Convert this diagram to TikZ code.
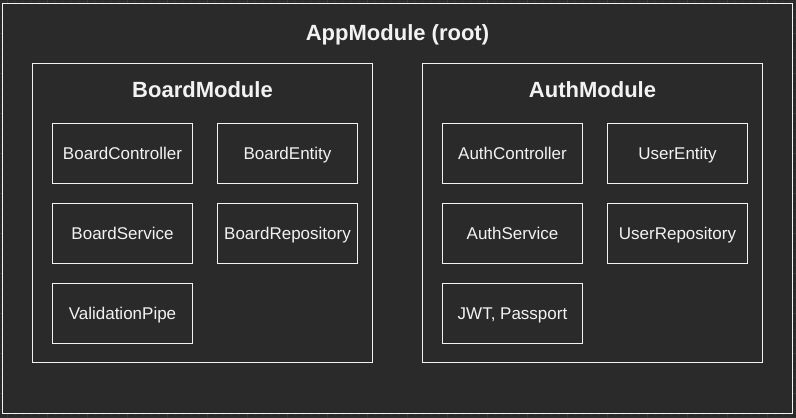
\documentclass[tikz,border=0pt]{standalone}
\usepackage{fontspec}
\setmainfont{Liberation Sans}
\definecolor{bg}{HTML}{2A2A2A}
\definecolor{gridminor}{HTML}{313131}
\definecolor{gridmajor}{HTML}{3C3C3C}
\definecolor{fg}{HTML}{F2F2F2}
\begin{document}
\begin{tikzpicture}[x=1pt,y=-1pt,
  frame/.style={draw=fg,line width=1.2pt},
  comp/.style={draw=fg,line width=1pt,minimum width=140pt,minimum height=60pt,anchor=north west,inner sep=0pt,outer sep=0pt,text=fg,font=\fontsize{17}{19}\selectfont,text height=12.2pt,text depth=0pt},
  ttl/.style={text=fg,font=\fontsize{22}{24}\selectfont\bfseries,inner sep=0pt,text height=15.8pt,text depth=0pt}]
\useasboundingbox (0,0) rectangle (796,418);
\fill[bg] (0,0) rectangle (796,418);
\foreach \i in {0,...,100} {\draw[gridminor,line width=0.6pt] ({-1+8*\i},0) -- ({-1+8*\i},418);}
\foreach \i in {0,...,53} {\draw[gridminor,line width=0.6pt] (0,{1+8*\i}) -- (796,{1+8*\i});}
\foreach \i in {0,...,20} {\draw[gridmajor,line width=0.8pt] ({7+40*\i},0) -- ({7+40*\i},418);}
\foreach \i in {-1,...,10} {\draw[gridmajor,line width=0.8pt] (0,{33+40*\i}) -- (796,{33+40*\i});}
% outer
\path[frame,fill=bg] (2.5,3.5) rectangle (792.5,413.5);
\node[ttl] (app) at (397.5,33) {AppModule (root)};
% modules
\path[frame] (32.5,63.5) rectangle (372.5,362.5);
\node[ttl] (board) at (202.5,90) {BoardModule};
\path[frame] (422.5,63.5) rectangle (762.5,362.5);
\node[ttl] (auth) at (592.5,90) {AuthModule};
% board components
\node[comp] (bc) at (52.5,123.5) {BoardController};
\node[comp] (be) at (217.5,123.5) {BoardEntity};
\node[comp] (bs) at (52.5,203.5) {BoardService};
\node[comp] (br) at (217.5,203.5) {BoardRepository};
\node[comp] (vp) at (52.5,283.5) {ValidationPipe};
% auth components
\node[comp] (ac) at (442.5,123.5) {AuthController};
\node[comp] (ue) at (607.5,123.5) {UserEntity};
\node[comp] (as) at (442.5,203.5) {AuthService};
\node[comp] (ur) at (607.5,203.5) {UserRepository};
\node[comp] (jwt) at (442.5,283.5) {JWT, Passport};
\end{tikzpicture}
\end{document}
